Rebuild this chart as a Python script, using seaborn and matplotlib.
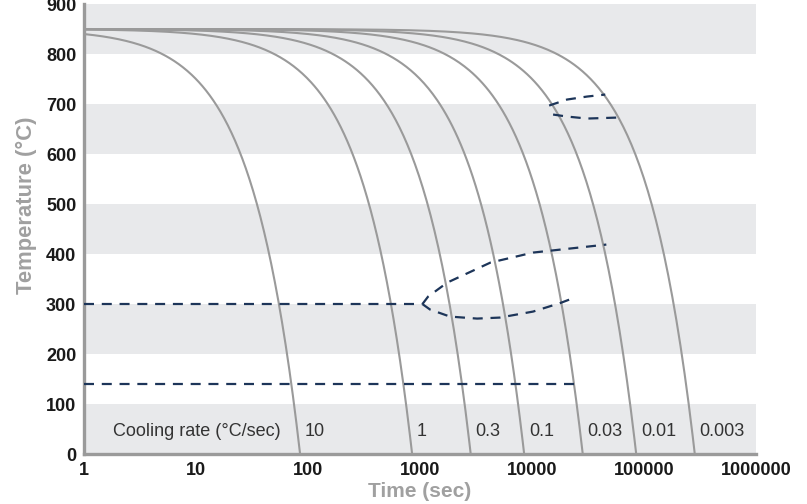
import numpy as np
import pandas as pd
import matplotlib
matplotlib.use("Agg")
import matplotlib.pyplot as plt
import seaborn as sns

# cooling curves: constant cooling rate from the start temperature
start_temp = 850
cooling_rates = [10, 1, 0.3, 0.1, 0.03, 0.01, 0.003]
rate_labels = ["10", "1", "0.3", "0.1", "0.03", "0.01", "0.003"]

# transformation lines (time in sec, temperature in C)
nose_upper_t = [14200, 20500, 31000, 45000]
nose_upper_T = [697, 709, 715, 719]
nose_lower_t = [15400, 20500, 31000, 58500]
nose_lower_T = [679, 675, 671, 673]

ms_t = [1, 1050]
ms_T = [300, 300]
bainite_upper_t = [1050, 1180, 1750, 4250, 10200, 46000]
bainite_upper_T = [300, 315, 343, 383, 403, 419]
bainite_lower_t = [1050, 1230, 1850, 3230, 5150, 10200, 17800, 24000]
bainite_lower_T = [300, 289, 275, 271, 273, 285, 302, 313]

mf_t = [1, 27000]
mf_T = [140, 140]

y_ticks = [0, 100, 200, 300, 400, 500, 600, 700, 800, 900]
x_ticks = [1, 10, 100, 1000, 10000, 100000, 1000000]
x_ticklabels = ["1", "10", "100", "1000", "10000", "100000", "1000000"]

sns.set_style("white")
plt.rcParams["font.family"] = ["Liberation Sans", "DejaVu Sans"]

fig = plt.figure(figsize=(8.07, 5.04), dpi=100)
ax = fig.add_axes([0.104, 0.099, 0.833, 0.893])

# alternating grey bands
for lo in range(0, 900, 200):
    ax.axhspan(lo, lo + 100, color="#e8e9eb", lw=0, zorder=0)

rows = []
for r, lab in zip(cooling_rates, rate_labels):
    t_end = start_temp / r
    t = np.logspace(0, np.log10(t_end), 300)
    rows.append(pd.DataFrame({"time": t, "temp": start_temp - r * t, "rate": lab}))
curves = pd.concat(rows, ignore_index=True)

sns.lineplot(data=curves, x="time", y="temp", units="rate", estimator=None,
             color="#9a9a9a", lw=1.5, ax=ax, zorder=2)

navy = "#1d3559"
dash = dict(color=navy, lw=1.6, dashes=(4.5, 3.5), zorder=3)
for tt, TT in [(nose_upper_t, nose_upper_T), (nose_lower_t, nose_lower_T),
               (ms_t, ms_T), (bainite_upper_t, bainite_upper_T),
               (bainite_lower_t, bainite_lower_T), (mf_t, mf_T)]:
    ax.plot(tt, TT, **dash)

# cooling rate labels just right of each curve end
ax.text(1.8, 45, "Cooling rate (\u00b0C/sec)", fontsize=13, color="#333333", va="center")
for r, lab in zip(cooling_rates, rate_labels):
    ax.text(start_temp / r * 1.1, 45, lab, fontsize=13, color="#333333", va="center")

ax.set_xscale("log")
ax.set_xlim(1, 1000000)
ax.set_ylim(0, 900)
ax.set_yticks(y_ticks)
ax.set_xticks(x_ticks)
ax.set_xticklabels(x_ticklabels)
ax.minorticks_off()

for s in ["top", "right"]:
    ax.spines[s].set_visible(False)
for s in ["left", "bottom"]:
    ax.spines[s].set_color("#9a9a9a")
    ax.spines[s].set_linewidth(2.4)
ax.tick_params(axis="both", length=4, width=1.5, color="#9a9a9a", pad=1.5,
               labelsize=13, labelcolor="#1a1a1a")
for lab in ax.get_xticklabels() + ax.get_yticklabels():
    lab.set_fontweight("bold")

ax.set_xlabel("Time (sec)", fontsize=15, fontweight="bold", color="#a0a0a0")
ax.set_ylabel("Temperature (\u00b0C)", fontsize=15.8, fontweight="bold", color="#a0a0a0")
ax.xaxis.set_label_coords(0.5, -0.063)
ax.yaxis.set_label_coords(-0.070, 0.554)

fig.savefig("out.png", dpi=100)
